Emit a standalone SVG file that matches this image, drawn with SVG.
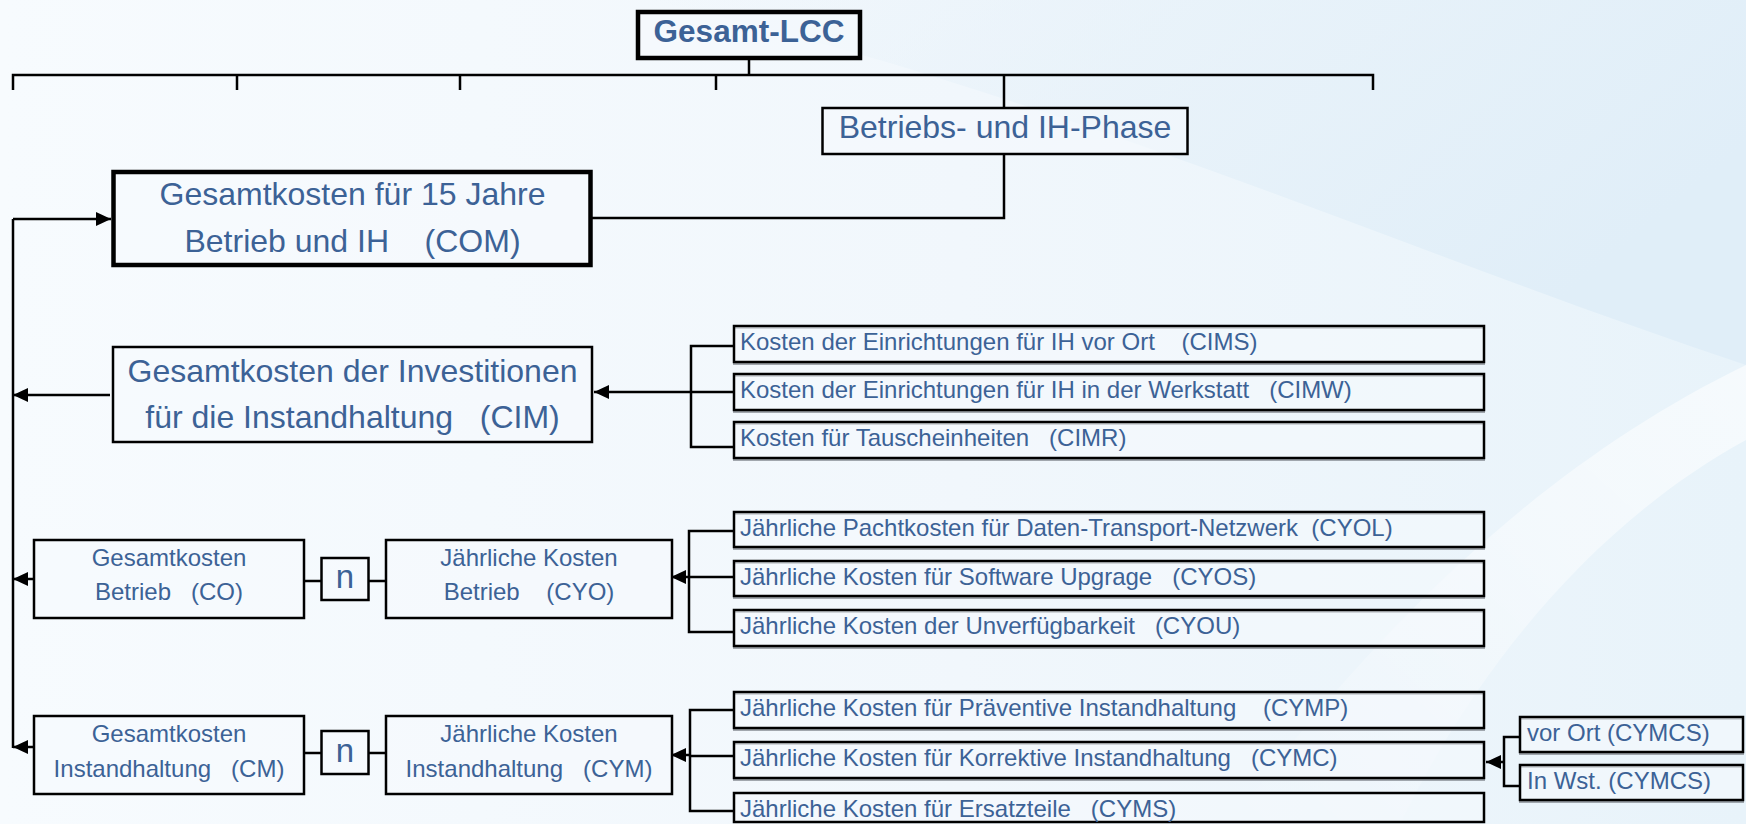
<svg xmlns="http://www.w3.org/2000/svg" width="1746" height="824" viewBox="0 0 1746 824">
<style>
.t{font-family:"Liberation Sans",Arial,sans-serif;fill:#3c6296}
.big{font-size:32px}
.mid{font-size:24px}
.sm{font-size:24px}
.box{fill:#f5f9fd;fill-opacity:0.55;stroke:#000;stroke-width:2.5}
.thick{stroke-width:4.5}
.sh{fill:none;stroke:#7f858c;stroke-width:2;opacity:0.7}
.ln{fill:none;stroke:#000;stroke-width:2.5}
</style>
<defs>
<linearGradient id="bg" x1="0" y1="0" x2="1" y2="0">
<stop offset="0" stop-color="#f7fbfe"/>
<stop offset="0.55" stop-color="#f1f7fc"/>
<stop offset="1" stop-color="#e8f3fa"/>
</linearGradient>
<linearGradient id="tr" x1="0" y1="0" x2="1" y2="0.4">
<stop offset="0" stop-color="#e6f1f9" stop-opacity="0"/>
<stop offset="0.45" stop-color="#e6f1f9" stop-opacity="0.7"/>
<stop offset="1" stop-color="#e0eef8" stop-opacity="1"/>
</linearGradient>
<linearGradient id="sw" x1="0" y1="1" x2="1" y2="0">
<stop offset="0" stop-color="#ffffff" stop-opacity="0"/>
<stop offset="0.6" stop-color="#ffffff" stop-opacity="0.45"/>
<stop offset="1" stop-color="#ffffff" stop-opacity="0.6"/>
</linearGradient>
<marker id="ah" markerUnits="userSpaceOnUse" markerWidth="16" markerHeight="14" refX="15" refY="7" orient="auto">
<path d="M0,0 L15,7 L0,14 Z" fill="#000"/>
</marker>
</defs>
<g id="background">
<rect x="0" y="0" width="1746" height="824" fill="url(#bg)"/>
<path d="M650,0 C1050,90 1400,250 1746,365 L1746,0 Z" fill="url(#tr)"/>
<path d="M1230,824 C1380,620 1550,460 1746,365 L1746,440 C1600,520 1480,660 1400,824 Z" fill="url(#sw)"/>
</g>
<g id="connectors">
<path class="ln" d="M749,58 V75"/>
<path class="ln" d="M13,90 V75 H1373 V90"/>
<path class="ln" d="M237,75 V90 M460,75 V90 M716,75 V90"/>
<path class="ln" d="M1004,75 V108"/>
<path class="ln" d="M1004,155 V218 H592"/>
<path class="ln" d="M13,219 V748"/>
<path class="ln" d="M13,219 H111" marker-end="url(#ah)"/>
<path class="ln" d="M110,395 H13" marker-end="url(#ah)"/>
<path class="ln" d="M33,579 H13" marker-end="url(#ah)"/>
<path class="ln" d="M33,747 H13" marker-end="url(#ah)"/>
<path class="ln" d="M691,392 H594" marker-end="url(#ah)"/>
<path class="ln" d="M733,346 H691 V447 H733 M691,392 H733"/>
<path class="ln" d="M689,577 H671" marker-end="url(#ah)"/>
<path class="ln" d="M733,531 H689 V632 H733 M689,577 H733"/>
<path class="ln" d="M690,755 H671" marker-end="url(#ah)"/>
<path class="ln" d="M733,710 H690 V811 H733 M690,756 H733"/>
<path class="ln" d="M1504,762 H1486" marker-end="url(#ah)"/>
<path class="ln" d="M1520,737 H1504 V786 H1520"/>
<path class="ln" d="M305,581 H321 M369,581 H385"/>
<path class="ln" d="M305,753 H321 M369,753 H385"/>
</g>
<g id="lcc">
<rect class="box thick" x="638" y="12" width="222" height="46"/>
<text class="t" x="749" y="42" font-size="31.5" font-weight="bold" text-anchor="middle">Gesamt-LCC</text>
</g>
<g id="phase">
<rect class="box" x="822.5" y="108" width="365" height="46"/>
<text class="t big" x="1005" y="138" text-anchor="middle">Betriebs- und IH-Phase</text>
</g>
<g id="com">
<rect class="box thick" x="113.5" y="172" width="477" height="93"/>
<text class="t big" x="352.5" y="205" text-anchor="middle">Gesamtkosten für 15 Jahre</text>
<text class="t big" x="352.5" y="252" text-anchor="middle" xml:space="preserve">Betrieb und IH    (COM)</text>
</g>
<g id="cim">
<rect class="box" x="113" y="347" width="479" height="95"/>
<text class="t big" x="352.5" y="382" text-anchor="middle">Gesamtkosten der Investitionen</text>
<text class="t big" x="352.5" y="428" text-anchor="middle" xml:space="preserve">für die Instandhaltung   (CIM)</text>
</g>
<g id="cims">
<rect class="sh" x="734" y="328" width="750" height="36"/>
<rect class="box" x="734" y="326" width="750" height="36"/>
<text class="t sm" x="740" y="350" xml:space="preserve">Kosten der Einrichtungen für IH vor Ort    (CIMS)</text>
</g>
<g id="cimw">
<rect class="sh" x="734" y="376" width="750" height="36"/>
<rect class="box" x="734" y="374" width="750" height="36"/>
<text class="t sm" x="740" y="398" xml:space="preserve">Kosten der Einrichtungen für IH in der Werkstatt   (CIMW)</text>
</g>
<g id="cimr">
<rect class="sh" x="734" y="424" width="750" height="36"/>
<rect class="box" x="734" y="422" width="750" height="36"/>
<text class="t sm" x="740" y="446" xml:space="preserve">Kosten für Tauscheinheiten   (CIMR)</text>
</g>
<g id="co">
<rect class="box" x="34" y="540" width="270" height="78"/>
<text class="t mid" x="169" y="566" text-anchor="middle">Gesamtkosten</text>
<text class="t mid" x="169" y="600" text-anchor="middle" xml:space="preserve">Betrieb   (CO)</text>
</g>
<g id="n1">
<rect class="box" x="321.5" y="558" width="47" height="42"/>
<text class="t" x="345" y="588" font-size="33" text-anchor="middle">n</text>
</g>
<g id="cyo">
<rect class="box" x="386" y="540" width="286" height="78"/>
<text class="t mid" x="529" y="566" text-anchor="middle">Jährliche Kosten</text>
<text class="t mid" x="529" y="600" text-anchor="middle" xml:space="preserve">Betrieb    (CYO)</text>
</g>
<g id="cyol">
<rect class="sh" x="734" y="514" width="750" height="35"/>
<rect class="box" x="734" y="512" width="750" height="35"/>
<text class="t sm" x="740" y="536" xml:space="preserve">Jährliche Pachtkosten für Daten-Transport-Netzwerk  (CYOL)</text>
</g>
<g id="cyos">
<rect class="sh" x="734" y="563" width="750" height="35"/>
<rect class="box" x="734" y="561" width="750" height="35"/>
<text class="t sm" x="740" y="585" xml:space="preserve">Jährliche Kosten für Software Upgrage   (CYOS)</text>
</g>
<g id="cyou">
<rect class="sh" x="734" y="612" width="750" height="36"/>
<rect class="box" x="734" y="610" width="750" height="36"/>
<text class="t sm" x="740" y="634" xml:space="preserve">Jährliche Kosten der Unverfügbarkeit   (CYOU)</text>
</g>
<g id="cm">
<rect class="box" x="34" y="716" width="270" height="78"/>
<text class="t mid" x="169" y="741.5" text-anchor="middle">Gesamtkosten</text>
<text class="t mid" x="169" y="776.5" text-anchor="middle" xml:space="preserve">Instandhaltung   (CM)</text>
</g>
<g id="n2">
<rect class="box" x="321.5" y="731" width="47" height="43"/>
<text class="t" x="345" y="762" font-size="33" text-anchor="middle">n</text>
</g>
<g id="cym">
<rect class="box" x="386" y="716" width="286" height="78"/>
<text class="t mid" x="529" y="741.5" text-anchor="middle">Jährliche Kosten</text>
<text class="t mid" x="529" y="776.5" text-anchor="middle" xml:space="preserve">Instandhaltung   (CYM)</text>
</g>
<g id="cymp">
<rect class="sh" x="734" y="694" width="750" height="36"/>
<rect class="box" x="734" y="692" width="750" height="36"/>
<text class="t sm" x="740" y="716" xml:space="preserve">Jährliche Kosten für Präventive Instandhaltung    (CYMP)</text>
</g>
<g id="cymc">
<rect class="sh" x="734" y="744" width="750" height="36"/>
<rect class="box" x="734" y="742" width="750" height="36"/>
<text class="t sm" x="740" y="766" xml:space="preserve">Jährliche Kosten für Korrektive Instandhaltung   (CYMC)</text>
</g>
<g id="cyms">
<rect class="box" x="734" y="793" width="750" height="29"/>
<text class="t sm" x="740" y="817" xml:space="preserve">Jährliche Kosten für Ersatzteile   (CYMS)</text>
</g>
<g id="cymcs1">
<rect class="sh" x="1520" y="719" width="223" height="35"/>
<rect class="box" x="1520" y="717" width="223" height="35"/>
<text class="t sm" x="1527" y="741" xml:space="preserve">vor Ort (CYMCS)</text>
</g>
<g id="cymcs2">
<rect class="sh" x="1520" y="767" width="223" height="35"/>
<rect class="box" x="1520" y="765" width="223" height="35"/>
<text class="t sm" x="1527" y="789" xml:space="preserve">In Wst. (CYMCS)</text>
</g>
</svg>
